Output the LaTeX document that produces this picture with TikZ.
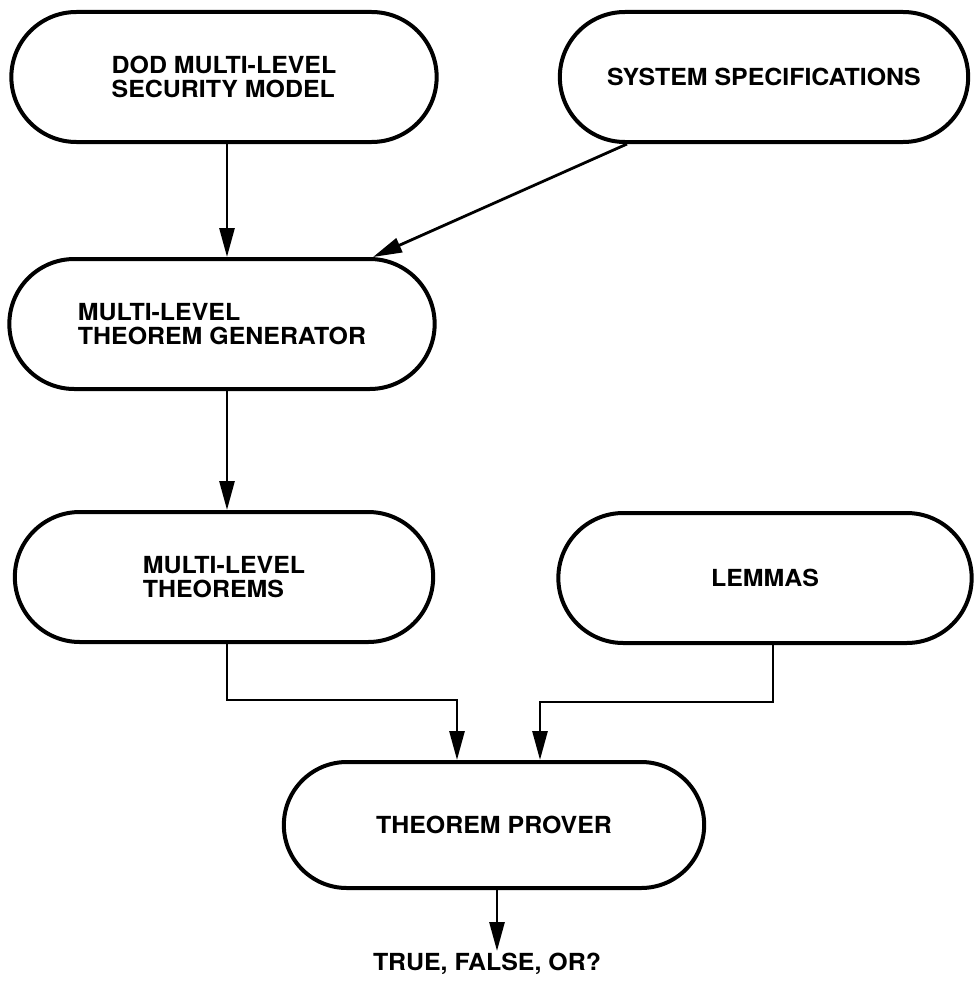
\documentclass[tikz,border=0pt]{standalone}
\usepackage{fontspec}
\setmainfont[FakeStretch=1.06]{TeX Gyre Heros}
\usepackage{tikz}
\usetikzlibrary{shapes.misc,arrows.meta,calc}

\begin{document}
\begin{tikzpicture}[x=1pt, y=-1pt,
  pill/.style={rounded rectangle, draw, line width=4pt, align=left,
    minimum height=130pt, font=\fontsize{23.5}{23.5}\selectfont\bfseries},
  flow/.style={line width=2.8pt, -{Triangle[length=29pt,width=15pt]}}]
\useasboundingbox (0,0) rectangle (975,982);
\node[pill, minimum width=432pt] (dod) at (224,77) {DOD MULTI-LEVEL\\SECURITY MODEL};
\node[pill, minimum width=415pt] (spec) at (764,77) {SYSTEM SPECIFICATIONS};
\node[pill, minimum width=432pt] (gen) at (222,324) {MULTI-LEVEL\\THEOREM GENERATOR};
\node[pill, minimum width=425pt] (thms) at (224,577) {MULTI-LEVEL\\THEOREMS};
\node[pill, minimum width=420pt] (lem) at (765,578) {LEMMAS};
\node[pill, minimum width=427pt, minimum height=126pt] (prov) at (494,825) {THEOREM PROVER};
\node[font=\fontsize{23.5}{23.5}\selectfont\bfseries, anchor=north, inner sep=2pt] (res) at (487,951) {TRUE, FALSE, OR?};
\draw[flow] ([xshift=3pt]dod.south) -- ([xshift=5pt]gen.north);
\draw[flow] ([xshift=-137pt]spec.south) -- ([xshift=151pt]gen.north);
\draw[flow] ([xshift=5pt]gen.south) -- ([xshift=3pt]thms.north);
\draw[flow] ([xshift=3pt]thms.south) -- ++(0,56) -| ([xshift=-37pt]prov.north);
\draw[flow] ([xshift=8pt]lem.south) -- ++(0,57) -| ([xshift=46pt]prov.north);
\draw[flow] ([xshift=3pt]prov.south) -- ([xshift=3pt]prov.south |- res.north);
\end{tikzpicture}
\end{document}
